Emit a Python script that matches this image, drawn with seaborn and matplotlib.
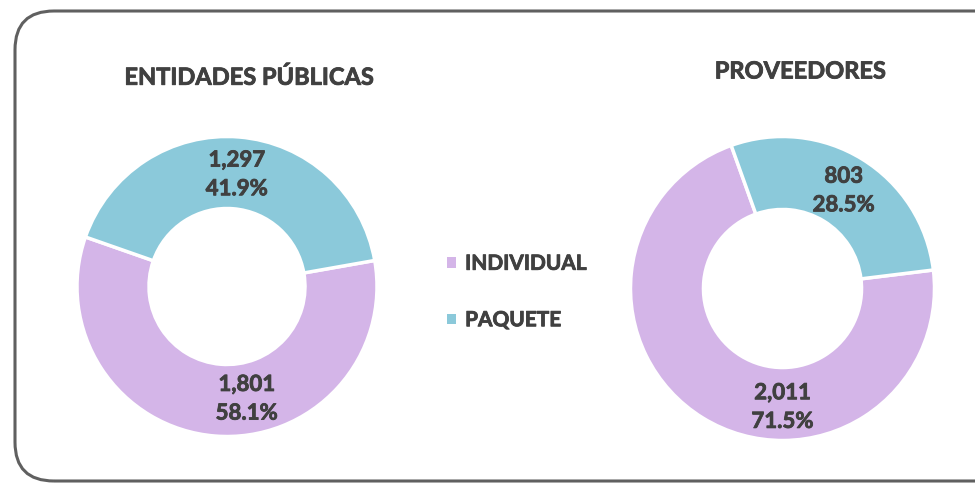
import numpy as np
import matplotlib.pyplot as plt
import seaborn as sns
import matplotlib.patheffects as pe
from matplotlib.patches import FancyBboxPatch, Patch

# ---------------- data ----------------
categories = ["INDIVIDUAL", "PAQUETE"]
titles = ["ENTIDADES PÚBLICAS", "PROVEEDORES"]
entidades = [1801, 1297]
proveedores = [2011, 803]
entidades_pct = ["58.1%", "41.9%"]
proveedores_pct = ["71.5%", "28.5%"]

colors = ["#D4B5E8", "#8BC9DA"]
text_color = "#404040"

sns.set_theme(style="white")
plt.rcParams["font.family"] = ["Lato", "DejaVu Sans"]

fig = plt.figure(figsize=(9.75, 4.85), dpi=100)
W, H = 975, 485

# rounded frame
frame = FancyBboxPatch((15 / W, 3 / H), 1.2, (H - 12 - 3) / H,
                       boxstyle="round,pad=0,rounding_size=0.04",
                       transform=fig.transFigure, fill=False,
                       edgecolor="#606060", linewidth=2.2, mutation_aspect=2.0)
fig.patches.append(frame)

# slightly heavier strokes, like the original bold font
thick = [pe.withStroke(linewidth=0.6, foreground=text_color)]


def donut(cx, cy, r_px, values, pcts, start, title, title_xy, label_pos):
    half = 160
    ax = fig.add_axes([(cx - half) / W, (H - cy - half) / H, 2 * half / W, 2 * half / H])
    lim = half / r_px
    ax.pie(values, colors=colors, startangle=start, counterclock=False,
           radius=1, wedgeprops=dict(width=0.48, edgecolor="white", linewidth=2.5))
    ax.set_xlim(-lim, lim)
    ax.set_ylim(-lim, lim)
    ax.set_aspect("equal")
    ax.axis("off")
    for v, p, (ang, rr) in zip(values, pcts, label_pos):
        x = rr * np.cos(np.radians(ang))
        y = rr * np.sin(np.radians(ang))
        ax.text(x, y, f"{v:,}\n{p}", ha="center", va="center", fontsize=16,
                fontweight="bold", color=text_color, linespacing=1.45,
                path_effects=thick)
    fig.text(title_xy[0] / W, 1 - title_xy[1] / H, title, ha="center", va="center",
             fontsize=17, fontweight="bold", color=text_color, path_effects=thick)


donut(227, 287.5, 150, entidades, entidades_pct, 10, titles[0], (249, 78),
      [(-80, 0.76), (85, 0.75)])
donut(782.5, 289.5, 152, proveedores, proveedores_pct, 7, titles[1], (800, 72),
      [(-90, 0.78), (58, 0.76)])

handles = [Patch(facecolor=c, edgecolor="none") for c in colors]
leg = fig.legend(handles, categories, loc="center", bbox_to_anchor=(517 / W, 1 - 293 / H),
                 frameon=False, handlelength=0.4, handleheight=0.4, handletextpad=0.45,
                 labelspacing=1.75, prop=dict(size=15, weight="bold"))
for t in leg.get_texts():
    t.set_color(text_color)
    t.set_path_effects(thick)

fig.savefig("out.png", dpi=100)
